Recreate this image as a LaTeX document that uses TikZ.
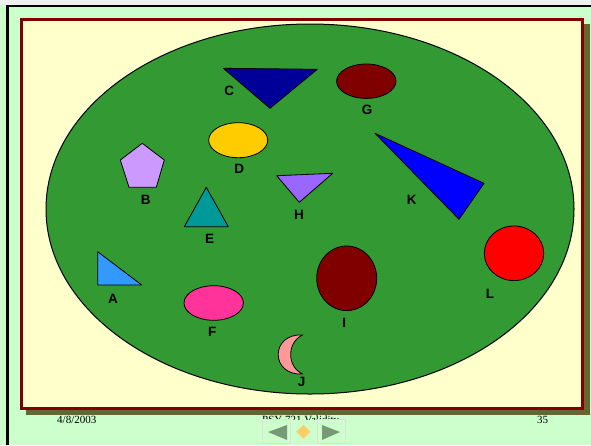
\documentclass[tikz,border=0pt]{standalone}
\usepackage{fontspec}
\setmainfont{Liberation Serif}
\newfontfamily\lblfont{Liberation Sans}
\usepackage{tikz}
\usetikzlibrary{positioning}

\definecolor{slidebg}{HTML}{CCFFCC}
\definecolor{panel}{HTML}{FFFFCC}
\definecolor{panelred}{HTML}{800000}
\definecolor{panelshadow}{HTML}{666633}
\definecolor{field}{HTML}{339933}
\definecolor{navgray}{HTML}{779977}
\definecolor{navorange}{HTML}{FFCC66}

\begin{document}
\begin{tikzpicture}[
    x=1pt, y=-1pt,
    shp/.style={
      draw=black,
      line width=0.8pt,
      line join=round
    },
    letter/.style={
      font=\lblfont\bfseries\fontsize{13.5}{13.5}\selectfont,
      inner sep=0pt
    },
    foot/.style={
      font=\fontsize{11}{11}\selectfont,
      inner sep=0pt,
      anchor=base west
    },
    navbox/.style={
      draw=gray!25,
      line width=0.8pt
    }
  ]
  \useasboundingbox (0,0) rectangle (591,445);

  % slide background
  \fill[slidebg] (0,0) rectangle (591,445);
  \fill[gray!12] (0,0) rectangle (591,5);
  \draw[line width=2.2pt] (7.5,445) -- (7.5,6) -- (591,6);

  % footer
  \node[foot] (date) at (57,423.5) {4/8/2003};
  \node[foot] (title) at (262,423.5) {PSY 721 Validity};
  \node[foot] (page) at (537,423.5) {35};

  % panel
  \fill[panelshadow] (26,24) rectangle (590,415);
  \draw[panelred, line width=3pt, fill=panel] (21.5,19.5) rectangle (582.5,408.5);

  \draw[shp, line width=1pt, fill=field] (310,209) ellipse [x radius=264pt, y radius=185pt];

  % the shapes
  \draw[shp, fill={rgb,255:red,51;green,153;blue,255}] (97.7,251.7) -- (97.7,285) -- (141.7,285) -- cycle;
  \draw[shp, fill={rgb,255:red,204;green,153;blue,255}] (142.3,143.3) -- (164.3,160) -- (156.3,187.3) -- (129,187.3) -- (120.3,160) -- cycle;
  \draw[shp, fill={rgb,255:red,0;green,0;blue,153}] (223.3,68.3) -- (317.3,69.3) -- (270,108.3) -- cycle;
  \draw[shp, fill={rgb,255:red,255;green,204;blue,0}] (238.2,140.2) ellipse [x radius=29.5pt, y radius=17.5pt];
  \draw[shp, fill={rgb,255:red,0;green,153;blue,153}] (206.3,187.3) -- (184.3,226.7) -- (228.3,226.7) -- cycle;
  \draw[shp, fill={rgb,255:red,255;green,51;blue,153}] (213.7,303) ellipse [x radius=29.7pt, y radius=17.3pt];
  \draw[shp, fill={rgb,255:red,128;green,0;blue,0}] (366.3,81.2) ellipse [x radius=29.7pt, y radius=17.2pt];
  \draw[shp, fill={rgb,255:red,153;green,102;blue,255}] (276.7,175.7) -- (332.7,173.3) -- (299.3,202.3) -- cycle;
  \draw[shp, fill={rgb,255:red,128;green,0;blue,0}] (346.7,278.3) ellipse [x radius=30pt, y radius=32.3pt];
  \draw[shp, fill={rgb,255:red,255;green,153;blue,153}] (302.7,335) .. controls (270,333) and (270,376) .. (302.7,374)
    .. controls (286.7,367) and (286.7,342) .. (302.7,335) -- cycle;
  \draw[shp, fill={rgb,255:red,0;green,0;blue,255}] (375,133.3) -- (484,183.3) -- (459,219.3) -- cycle;
  \draw[shp, fill={rgb,255:red,255;green,0;blue,0}] (514,253.3) ellipse [x radius=29.7pt, y radius=27.3pt];

  % labels
  \node[letter] (labelA) at (113,299) {A};
  \node[letter] (labelB) at (145.7,200) {B};
  \node[letter] (labelC) at (229.3,91) {C};
  \node[letter] (labelD) at (239.3,169.3) {D};
  \node[letter] (labelE) at (209.7,238.7) {E};
  \node[letter] (labelF) at (212.3,332) {F};
  \node[letter] (labelG) at (367,110) {G};
  \node[letter] (labelH) at (299,215) {H};
  \node[letter] (labelI) at (344.3,322.7) {I};
  \node[letter] (labelJ) at (301.7,381.7) {J};
  \node[letter] (labelK) at (411.7,200) {K};
  \node[letter] (labelL) at (490,294.3) {L};

  % navigation buttons
  \fill[slidebg] (262,419.5) rectangle (345,443);
  \draw[navbox] (262,419.5) rectangle (290,443);
  \draw[navbox] (317,419.5) rectangle (345,443);
  \fill[navgray] (268,432) -- (287,425) -- (287,440) -- cycle;
  \fill[navorange] (303.3,424.7) -- (310.3,431.7) -- (303.3,438.7) -- (296.3,431.7) -- cycle;
  \fill[navgray] (340,432) -- (322,425) -- (322,440) -- cycle;
\end{tikzpicture}
\end{document}
